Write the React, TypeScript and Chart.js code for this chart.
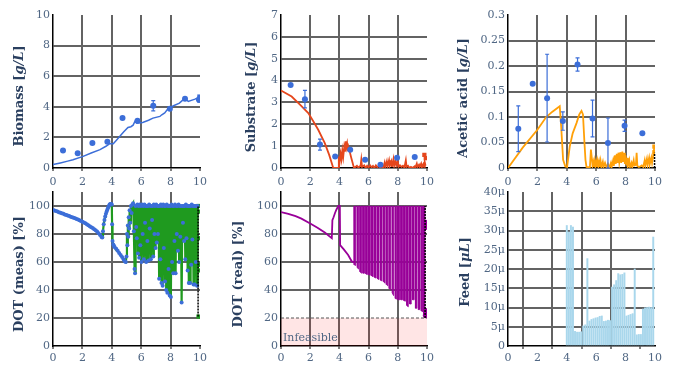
import React, { useEffect, useRef } from 'react';
import { Chart, registerables } from 'chart.js';
Chart.register(...registerables);

// ---------------- style constants ----------------
const TICK_FONT = 'DejaVu Serif';
const TICK_SIZE = 11;
const TICK_COLOR = '#506784';
const TITLE_COLOR = '#2a3f5f';
const TITLE_FONT = '"DejaVu Serif"';
const TITLE_SIZE = 13;
const GRID_COLOR = '#636363';
const BLUE = '#3c6ed8';
const RED = '#e5461c';
const ORANGE = '#ffa008';
const GREEN = '#1f9a1f';
const PURPLE = '#990099';
const FEED_BLUE = '#a9d7ec';

// ---------------- data ----------------
const xTickValues = [0, 2, 4, 6, 8, 10];

// Biomass
const biomassT = [0.68, 1.68, 2.68, 3.7, 4.73, 5.75, 6.82, 7.95, 8.98, 9.93];
const biomassY = [1.15, 0.96, 1.63, 1.72, 3.26, 3.09, 4.07, 3.87, 4.52, 4.46];
const biomassErr = [0, 0, 0, 0, 0, 0, 0.33, 0, 0, 0];
const biomassEndY = [4.4, 4.55, 4.67];
const biomassModelT = [0, 0.5, 1.0, 1.36, 2.05, 2.6, 3.2, 3.6, 3.86, 4.1, 4.3, 4.55, 4.8, 5.1, 5.3, 5.45, 5.57, 5.7, 6.1, 6.5, 6.8, 7.27, 7.4, 7.6, 7.84, 8.2, 8.6, 8.98, 9.2, 9.66, 10];
const biomassModelY = [0.22, 0.33, 0.45, 0.54, 0.76, 0.98, 1.2, 1.42, 1.59, 1.59, 1.8, 2.07, 2.35, 2.65, 2.7, 2.8, 3.04, 2.93, 2.98, 3.12, 3.26, 3.37, 3.48, 3.6, 3.9, 4.07, 4.24, 4.57, 4.35, 4.5, 4.67];

// Substrate
const substrateT = [0.66, 1.64, 2.67, 3.71, 4.74, 5.76, 6.81, 7.95, 9.16];
const substrateY = [3.8, 3.15, 1.07, 0.53, 0.84, 0.38, 0.15, 0.47, 0.5];
const substrateErr = [0, 0.4, 0.25, 0, 0, 0, 0, 0, 0];
const substrateEndT = [9.82, 9.92];
const substrateEndY = [0.6, 0.45];
const substrateModelT = [0, 0.73, 1.3, 1.87, 2.2, 2.55, 3.0, 3.3, 3.58, 3.92, 3.96, 4.02, 4.08, 4.14, 4.2, 4.26, 4.33, 4.38, 4.43, 4.48, 4.53, 4.58, 4.65, 4.82, 5.0, 5.1, 5.2, 5.3, 5.45, 5.5, 5.55, 5.7, 5.8, 5.9, 6.0, 6.1, 6.2, 6.3, 6.4, 6.5, 6.6, 6.7, 6.8, 6.9, 7.0, 7.1, 7.15, 7.25, 7.3, 7.4, 7.45, 7.55, 7.6, 7.7, 7.75, 7.85, 7.9, 8.0, 8.05, 8.15, 8.25, 8.35, 8.45, 8.55, 8.6, 8.7, 8.8, 8.9, 9.0, 9.15, 9.2, 9.3, 9.35, 9.45, 9.5, 9.6, 9.65, 9.75, 9.8, 9.85, 9.9];
const substrateModelY = [3.55, 3.27, 2.9, 2.51, 2.15, 1.75, 1.14, 0.6, 0, 0, 0.53, 0.3, 0.65, 0.4, 0.8, 0.5, 0.95, 0.75, 1.22, 0.95, 1.12, 0.85, 0.9, 0.45, 0, 0.05, 0.1, 0.02, 0.1, 0.38, 0.05, 0.12, 0.0, 0.1, 0.02, 0.12, 0.03, 0.1, 0.0, 0.12, 0.03, 0.1, 0.02, 0.08, 0.0, 0.25, 0.05, 0.3, 0.08, 0.35, 0.1, 0.3, 0.05, 0.4, 0.1, 0.35, 0.12, 0.3, 0.05, 0.12, 0.05, 0.1, 0.02, 0.35, 0.05, 0.1, 0.0, 0.05, 0.0, 0.08, 0.02, 0.2, 0.05, 0.15, 0.05, 0.2, 0.05, 0.18, 0.05, 0.25, 0.1];

// Acetic acid
const aceticT = [0.7, 1.68, 2.66, 3.73, 4.73, 5.75, 6.8, 7.93, 9.14];
const aceticY = [0.077, 0.165, 0.137, 0.092, 0.203, 0.097, 0.049, 0.083, 0.068];
const aceticErr = [0.045, 0, 0.086, 0.018, 0.013, 0.036, 0.049, 0.011, 0];
const aceticEndY = [0.042, 0.031];
const aceticModelT = [0, 1.0, 2.0, 2.6, 3.0, 3.52, 3.62, 3.75, 3.9, 4.02, 4.1, 4.2, 4.4, 4.66, 4.85, 5.0, 5.1, 5.2, 5.27, 5.34, 5.57, 5.64, 5.7, 5.75, 5.8, 5.85, 5.9, 5.95, 6.0, 6.05, 6.1, 6.15, 6.2, 6.25, 6.3, 6.35, 6.45, 6.5, 6.6, 6.7, 6.8, 6.9, 7.0, 7.05, 7.15, 7.2, 7.28, 7.33, 7.4, 7.45, 7.52, 7.57, 7.65, 7.7, 7.78, 7.83, 7.9, 7.95, 8.0, 8.05, 8.1, 8.15, 8.25, 8.3, 8.4, 8.45, 8.55, 8.6, 8.7, 8.75, 8.8, 8.9, 9.0, 9.1, 9.2, 9.3, 9.35, 9.45, 9.5, 9.6, 9.65, 9.75, 9.8, 9.88, 9.95];
const aceticModelY = [0, 0.04, 0.075, 0.1, 0.11, 0.121, 0.08, 0.016, 0.003, 0.002, 0.02, 0.042, 0.068, 0.088, 0.105, 0.112, 0.105, 0.05, 0.016, 0.002, 0.001, 0.036, 0.02, 0.005, 0.012, 0.002, 0.013, 0.003, 0.012, 0.002, 0.013, 0.003, 0.012, 0.002, 0.013, 0.002, 0.012, 0.002, 0.01, 0.001, 0.008, 0.001, 0.01, 0.002, 0.015, 0.004, 0.025, 0.008, 0.028, 0.01, 0.03, 0.012, 0.031, 0.01, 0.032, 0.012, 0.03, 0.008, 0.025, 0.005, 0.02, 0.003, 0.015, 0.002, 0.01, 0.002, 0.015, 0.005, 0.006, 0.03, 0.004, 0.002, 0.003, 0.005, 0.002, 0.015, 0.005, 0.018, 0.006, 0.02, 0.008, 0.02, 0.01, 0.025, 0.04];

// DOT (meas)
const dotMeasT = [0, 0.1, 0.2, 0.3, 0.4, 0.5, 0.6, 0.7, 0.8, 0.9, 1.0, 1.1, 1.2, 1.3, 1.4, 1.5, 1.6, 1.7, 1.8, 1.9, 2.0, 2.1, 2.2, 2.3, 2.4, 2.5, 2.6, 2.7, 2.8, 2.9, 3.0, 3.1, 3.2, 3.3,
  3.35, 3.4, 3.45, 3.5, 3.55, 3.6, 3.65, 3.7, 3.75, 3.8, 3.85, 3.9, 3.95, 4.0, 4.02, 4.05, 4.1, 4.15, 4.2, 4.3, 4.4, 4.5, 4.6, 4.7, 4.8, 4.85, 4.9, 4.95,
  5.0, 5.03, 5.06, 5.09, 5.12, 5.15, 5.18, 5.21, 5.25, 5.3, 5.35, 5.4, 5.45, 5.5, 5.55, 5.58, 5.62, 5.66, 5.7, 5.74, 5.78, 5.82, 5.86, 5.9, 5.94, 5.98,
  6.02, 6.06, 6.1, 6.14, 6.18, 6.22, 6.26, 6.3, 6.34, 6.38, 6.42, 6.46, 6.5, 6.54, 6.58, 6.62, 6.66, 6.7, 6.74, 6.78, 6.82, 6.86, 6.9, 6.94, 6.98,
  7.02, 7.06, 7.1, 7.14, 7.18, 7.22, 7.26, 7.3, 7.34, 7.38, 7.42, 7.46, 7.5, 7.54, 7.58, 7.62, 7.66, 7.7, 7.74, 7.78, 7.82, 7.86, 7.9, 7.94, 7.98,
  8.02, 8.06, 8.1, 8.14, 8.18, 8.22, 8.26, 8.3, 8.34, 8.38, 8.42, 8.46, 8.5, 8.54, 8.58, 8.62, 8.66, 8.7, 8.75, 8.8, 8.84, 8.88, 8.92, 8.96,
  9.0, 9.04, 9.08, 9.12, 9.16, 9.2, 9.24, 9.28, 9.32, 9.36, 9.4, 9.44, 9.48, 9.52, 9.56, 9.6, 9.64, 9.68, 9.72, 9.76, 9.8, 9.84];
const dotMeasY = [97.2, 96.8, 96.4, 96.0, 95.6, 95.2, 94.8, 94.4, 94.0, 93.6, 93.2, 92.8, 92.4, 92.0, 91.6, 91.2, 90.8, 90.3, 89.8, 89.3, 88.8, 88.2, 87.6, 87.0, 86.3, 85.6, 84.9, 84.2, 83.4, 82.6, 81.7, 80.6, 79.3, 77.8,
  77.5, 82, 87, 90, 92.5, 94.5, 96, 97.5, 99, 100, 101, 101.5, 101.5, 101, 87, 75, 72.5, 71.5, 70.5, 69.5, 68, 66.5, 65, 63.5, 62, 61, 60.3, 60,
  64, 80, 72, 86, 78, 92, 84, 97, 88, 100, 95, 101, 102, 82, 55, 52, 100, 85, 77, 101, 66, 100, 63, 101, 72, 100,
  60, 101, 80, 100, 62, 101, 88, 100, 60, 100, 75, 100, 61, 101, 84, 100, 62, 100, 90, 100, 64, 101, 80, 100, 70,
  101, 74, 100, 80, 100, 48, 100, 62, 101, 45, 100, 43, 101, 70, 100, 46, 100, 40, 101, 38, 100, 55, 100, 36, 100,
  35, 101, 60, 100, 52, 100, 75, 101, 52, 100, 80, 100, 68, 101, 60, 100, 78, 100, 31, 100, 88, 100, 75, 100,
  62, 101, 77, 100, 54, 100, 45, 100, 45, 100, 58, 101, 76, 100, 44, 100, 44, 100, 60, 100, 43, 100];
const dotMeasEndY = [100, 96, 77, 58, 54, 21];

// DOT (real): smooth early part, then the fast on/off cycling part
const dotRealEarlyT = [0, 0.5, 1.0, 1.4, 2.0, 2.5, 3.0, 3.48, 3.52, 3.6, 3.7, 3.8, 3.93, 4.03, 4.05, 4.3, 4.6, 4.84, 4.95, 5.0];
const dotRealEarlyY = [95.7, 94.3, 92.7, 91, 87.5, 84.5, 81, 77, 89.8, 92, 95, 97.5, 100, 100, 72, 69, 65, 60.5, 60, 60];
const dotRealCycleT = [
  5.0, 5.01, 5.11, 5.12, 5.2, 5.21, 5.31, 5.32, 5.4, 5.41, 5.51, 5.52, 5.6, 5.61, 5.71, 5.72, 5.8, 5.81, 5.91, 5.92,
  6.0, 6.01, 6.11, 6.12, 6.2, 6.21, 6.31, 6.32, 6.4, 6.41, 6.51, 6.52, 6.6, 6.61, 6.71, 6.72, 6.8, 6.81, 6.91, 6.92,
  7.0, 7.01, 7.11, 7.12, 7.2, 7.21, 7.31, 7.32, 7.4, 7.41, 7.51, 7.52, 7.6, 7.61, 7.71, 7.72, 7.8, 7.81, 7.91, 7.92,
  8.0, 8.01, 8.11, 8.12, 8.2, 8.21, 8.31, 8.32, 8.4, 8.41, 8.51, 8.52, 8.6, 8.61, 8.71, 8.72, 8.8, 8.81, 8.91, 8.92,
  9.0, 9.01, 9.11, 9.12, 9.2, 9.21, 9.31, 9.32, 9.4, 9.41, 9.51, 9.52, 9.6, 9.61, 9.71, 9.72, 9.76, 9.77, 9.85, 9.86];
const dotRealCycleY = [
  100, 58, 57.5, 100, 100, 56, 55, 100, 100, 53, 52, 100, 100, 52, 52, 100, 100, 51.5, 51, 100,
  100, 51, 50.5, 100, 100, 50, 49.5, 100, 100, 49, 48.5, 100, 100, 48, 47.5, 100, 100, 47, 46.5, 100,
  100, 46, 45, 100, 100, 44, 43, 100, 100, 41, 40, 100, 100, 38, 36, 100, 100, 34, 33.5, 100,
  100, 33, 33, 100, 100, 33, 33, 100, 100, 32.5, 32, 100, 100, 29, 28, 100, 100, 30, 30, 100,
  100, 33, 33, 100, 100, 27, 27, 100, 100, 26, 26, 100, 100, 25, 24.5, 100, 100, 23, 22, 100];
const dotRealEndY = [88, 85, 25, 22];
const infeasibleLimit = 20;

// Feed (values in micro-units)
const feedT = [4.0, 4.14, 4.28, 4.42, 4.56, 4.7, 4.84, 4.98, 5.12, 5.26, 5.4, 5.54, 5.68, 5.82, 5.96, 6.1, 6.24, 6.38, 6.52, 6.66, 6.8, 6.94, 7.08, 7.22, 7.36, 7.5, 7.64, 7.78, 7.92, 8.06, 8.2, 8.34, 8.48, 8.62, 8.76, 8.9, 9.04, 9.18, 9.32, 9.46, 9.6, 9.74, 9.88];
const feedMicro = [31.3, 29.6, 31.3, 30.9, 3.8, 3.6, 3.6, 3.7, 5.2, 5.5, 22.7, 6.5, 6.9, 7.1, 7.3, 7.4, 7.7, 7.8, 6.4, 6.5, 6.7, 6.6, 15.3, 15.9, 17.0, 18.8, 18.5, 18.6, 19.0, 7.8, 8.0, 8.2, 8.4, 20.0, 2.9, 3.0, 3.0, 9.6, 9.9, 10.0, 10.1, 10.0, 28.3];

// ---------------- helpers ----------------
const pts = (t: number[], y: number[]) => t.map((x, i) => ({ x, y: y[i] }));
const atX = (x: number, y: number[]) => y.map((v) => ({ x, y: v }));

const dots = (data: any[], color: string, extra: any = {}) => ({
  type: 'line', data, showLine: false, pointRadius: 3, pointBackgroundColor: color,
  pointBorderColor: color, pointBorderWidth: 0, borderColor: color, backgroundColor: color, ...extra,
});
const line = (data: any[], color: string, width = 1.5, extra: any = {}) => ({
  type: 'line', data, borderColor: color, borderWidth: width, pointRadius: 0, tension: 0, fill: false, ...extra,
});

const COLS = [
  { left: 0, w: 225, plotLeft: 53, plotRight: 200 },
  { left: 225, w: 225, plotLeft: 281, plotRight: 427 },
  { left: 450, w: 226, plotLeft: 508, plotRight: 655 },
];
const ROWS = [
  { top: 0, h: 190, plotTop: 15, plotBottom: 168, xPad: 5 },
  { top: 182, h: 183, plotTop: 192, plotBottom: 346, xPad: 3 },
];

type Seg = { t: string; i?: boolean };
type Spec = {
  col: number; row: number;
  yMax: number; yStep: number; yTickMax: number; yFmt: (v: number) => string;
  title: Seg[]; titleX: number; titleY: number;
  datasets: any[];
  errors?: { t: number[]; y: number[]; e: number[]; color: string }[];
  lines?: { x1: number; y1: number; x2: number; y2: number; color: string; dash?: number[]; width?: number }[];
  zone?: { y1: number; y2: number; color: string; text: string };
  hideGrid?: number[];
};

function buildConfig(spec: Spec): any {
  const c = COLS[spec.col];
  const r = ROWS[spec.row];
  const yW = c.plotLeft - c.left;
  const padRight = c.left + c.w - c.plotRight;
  const padTop = r.plotTop - r.top;
  const xH = r.top + r.h - r.plotBottom;
  const eps = 1e-9;

  const titlePlugin = {
    id: 'ytitle',
    afterDraw(chart: any) {
      const ctx = chart.ctx;
      ctx.save();
      ctx.translate(spec.titleX - c.left, spec.titleY - r.top);
      ctx.rotate(-Math.PI / 2);
      const fontOf = (s: Seg) => `${s.i ? 'italic ' : ''}bold ${TITLE_SIZE}px ${TITLE_FONT}`;
      let total = 0;
      const widths = spec.title.map((s) => { ctx.font = fontOf(s); const w = ctx.measureText(s.t).width; total += w; return w; });
      let x = -total / 2;
      ctx.fillStyle = TITLE_COLOR;
      ctx.textBaseline = 'middle';
      ctx.textAlign = 'left';
      spec.title.forEach((s, i) => { ctx.font = fontOf(s); ctx.fillText(s.t, x, 0); x += widths[i]; });
      ctx.restore();
    },
  };

  const extrasPlugin = {
    id: 'extras',
    beforeDatasetsDraw(chart: any) {
      if (!spec.zone) return;
      const { ctx, chartArea: a, scales } = chart;
      const y1 = scales.y.getPixelForValue(spec.zone.y1);
      const y2 = scales.y.getPixelForValue(spec.zone.y2);
      ctx.save();
      ctx.fillStyle = spec.zone.color;
      ctx.fillRect(a.left, y2, a.right - a.left, y1 - y2);
      ctx.strokeStyle = '#555';
      ctx.lineWidth = 1;
      ctx.setLineDash([3, 2]);
      ctx.beginPath();
      ctx.moveTo(a.left, y2);
      ctx.lineTo(a.right, y2);
      ctx.stroke();
      ctx.setLineDash([]);
      ctx.fillStyle = TICK_COLOR;
      ctx.font = `${TICK_SIZE}px "${TICK_FONT}"`;
      ctx.textBaseline = 'alphabetic';
      ctx.fillText(spec.zone.text, a.left + 2, y1 - 5);
      ctx.restore();
    },
    afterDatasetsDraw(chart: any) {
      const { ctx, scales } = chart;
      const sx = scales.x, sy = scales.y;
      ctx.save();
      (spec.errors || []).forEach((eb) => {
        ctx.strokeStyle = eb.color;
        ctx.lineWidth = 1.2;
        eb.t.forEach((t, i) => {
          const e = eb.e[i];
          if (!e) return;
          const px = sx.getPixelForValue(t);
          const top = sy.getPixelForValue(eb.y[i] + e);
          const bot = sy.getPixelForValue(eb.y[i] - e);
          ctx.beginPath();
          ctx.moveTo(px, top); ctx.lineTo(px, bot);
          ctx.moveTo(px - 2, top); ctx.lineTo(px + 2, top);
          ctx.moveTo(px - 2, bot); ctx.lineTo(px + 2, bot);
          ctx.stroke();
        });
      });
      (spec.lines || []).forEach((l) => {
        ctx.strokeStyle = l.color;
        ctx.lineWidth = l.width || 1.5;
        ctx.setLineDash(l.dash || []);
        ctx.beginPath();
        ctx.moveTo(sx.getPixelForValue(l.x1), sy.getPixelForValue(l.y1));
        ctx.lineTo(sx.getPixelForValue(l.x2), sy.getPixelForValue(l.y2));
        ctx.stroke();
      });
      ctx.restore();
    },
  };

  const tickFont = { family: TICK_FONT, size: TICK_SIZE };
  const hide = spec.hideGrid || [];

  return {
    type: 'line',
    data: { datasets: spec.datasets },
    plugins: [extrasPlugin, titlePlugin],
    options: {
      animation: false,
      responsive: false,
      devicePixelRatio: 1,
      layout: { padding: { left: 0, top: padTop, right: padRight, bottom: 0 } },
      plugins: { legend: { display: false }, tooltip: { enabled: false } },
      scales: {
        x: {
          type: 'linear', min: 0, max: 10, offset: false,
          afterBuildTicks: (s: any) => { s.ticks = xTickValues.map((v) => ({ value: v })); },
          ticks: { color: TICK_COLOR, font: tickFont, padding: r.xPad, maxRotation: 0, autoSkip: false, callback: (v: any) => String(v) },
          grid: {
            color: (ctx: any) => (ctx.tick && (Math.abs(ctx.tick.value) < eps || Math.abs(ctx.tick.value - 10) < eps) ? 'rgba(0,0,0,0)' : GRID_COLOR),
            lineWidth: 2, drawTicks: true, tickColor: '#000', tickLength: 3, tickWidth: 1,
          },
          border: { display: true, color: '#000', width: 1.5 },
          afterFit: (s: any) => { s.height = xH; },
        },
        y: {
          type: 'linear', min: 0, max: spec.yMax,
          ticks: { stepSize: spec.yStep, color: TICK_COLOR, font: tickFont, padding: 3, callback: (v: any) => spec.yFmt(Number(v)) },
          afterBuildTicks: (s: any) => { s.ticks = s.ticks.filter((t: any) => t.value <= spec.yTickMax + eps); },
          grid: {
            color: (ctx: any) => {
              const v = ctx.tick ? ctx.tick.value : NaN;
              if (Math.abs(v) < eps || Math.abs(v - spec.yMax) < eps || hide.some((h) => Math.abs(h - v) < eps)) return 'rgba(0,0,0,0)';
              return GRID_COLOR;
            },
            lineWidth: 2, drawTicks: false,
          },
          border: { display: true, color: '#000', width: 1.5 },
          afterFit: (s: any) => { s.width = yW; },
        },
      },
    },
  };
}

const intFmt = (v: number) => String(Math.round(v));

const SPECS: Spec[] = [
  {
    col: 0, row: 0, yMax: 10, yStep: 2, yTickMax: 10, yFmt: intFmt,
    title: [{ t: 'Biomass [' }, { t: 'g/L', i: true }, { t: ']' }], titleX: 20, titleY: 96,
    datasets: [
      dots(pts(biomassT, biomassY), BLUE),
      dots(atX(9.96, biomassEndY), BLUE, { pointStyle: 'rect', pointRadius: 3 }),
      line(pts(biomassModelT, biomassModelY), BLUE, 1.5),
    ],
    errors: [{ t: biomassT, y: biomassY, e: biomassErr, color: BLUE }],
  },
  {
    col: 1, row: 0, yMax: 7, yStep: 1, yTickMax: 7, yFmt: intFmt,
    title: [{ t: 'Substrate [' }, { t: 'g/L', i: true }, { t: ']' }], titleX: 252, titleY: 97,
    datasets: [
      dots(pts(substrateT, substrateY), BLUE),
      dots(pts(substrateEndT, substrateEndY), RED, { pointStyle: 'rect', pointRadius: 3 }),
      line(pts(substrateModelT, substrateModelY), RED, 1.8),
    ],
    errors: [{ t: substrateT, y: substrateY, e: substrateErr, color: BLUE }],
  },
  {
    col: 2, row: 0, yMax: 0.3, yStep: 0.05, yTickMax: 0.3, yFmt: (v) => String(Number(v.toFixed(2))),
    title: [{ t: 'Acetic acid [' }, { t: 'g/L', i: true }, { t: ']' }], titleX: 464, titleY: 98,
    datasets: [
      dots(pts(aceticT, aceticY), BLUE),
      dots(atX(9.96, aceticEndY), ORANGE, { pointStyle: 'rect', pointRadius: 3 }),
      line(pts(aceticModelT, aceticModelY), ORANGE, 1.8),
    ],
    errors: [{ t: aceticT, y: aceticY, e: aceticErr, color: BLUE }],
    lines: [{ x1: 9.97, y1: 0, x2: 9.97, y2: 0.03, color: '#000', dash: [2, 1], width: 1.5 }],
  },
  {
    col: 0, row: 1, yMax: 110, yStep: 20, yTickMax: 100, yFmt: intFmt,
    title: [{ t: 'DOT (meas) [%]' }], titleX: 20, titleY: 274,
    datasets: [
      dots(pts(dotMeasT, dotMeasY), BLUE, { pointRadius: 2 }),
      dots(atX(9.9, dotMeasEndY), GREEN, { pointStyle: 'rect', pointRadius: 3 }),
      line(pts(dotMeasT, dotMeasY), GREEN, 2.2),
    ],
    lines: [{ x1: 9.87, y1: 21, x2: 9.87, y2: 100, color: '#000', dash: [2, 1], width: 1.5 }],
  },
  {
    col: 1, row: 1, yMax: 110, yStep: 20, yTickMax: 100, yFmt: intFmt,
    title: [{ t: 'DOT (real) [%]' }], titleX: 239, titleY: 274,
    datasets: [
      dots(atX(9.92, dotRealEndY), PURPLE, { pointRadius: 3 }),
      line(pts(dotRealCycleT, dotRealCycleY), PURPLE, 0.8, { fill: { value: 100 }, backgroundColor: PURPLE }),
      line(pts(dotRealEarlyT, dotRealEarlyY), PURPLE, 1.8),
    ],
    hideGrid: [20],
    zone: { y1: 0, y2: infeasibleLimit, color: 'rgba(255,0,0,0.1)', text: 'Infeasible' },
    lines: [{ x1: 9.87, y1: 20, x2: 9.87, y2: 100, color: '#000', dash: [2, 1], width: 1.5 }],
  },
  {
    col: 2, row: 1, yMax: 40, yStep: 5, yTickMax: 40, yFmt: (v) => (Math.abs(v) < 1e-9 ? '0' : `${Math.round(v)}μ`),
    title: [{ t: 'Feed [' }, { t: 'μL', i: true }, { t: ']' }], titleX: 466, titleY: 272,
    datasets: [
      { type: 'bar', data: pts(feedT, feedMicro), backgroundColor: FEED_BLUE, borderWidth: 0, barThickness: 1.3 },
    ],
  },
];

function Panel({ spec }: { spec: Spec }) {
  const ref = useRef<HTMLCanvasElement>(null);
  const c = COLS[spec.col];
  const r = ROWS[spec.row];
  useEffect(() => {
    const chart = new Chart(ref.current as HTMLCanvasElement, buildConfig(spec));
    return () => chart.destroy();
  }, []);
  return (
    <canvas
      ref={ref}
      width={c.w}
      height={r.h}
      style={{ position: 'absolute', left: c.left, top: r.top, width: c.w, height: r.h }}
    />
  );
}

export default function App() {
  return (
    <div style={{ position: 'absolute', left: 0, top: 0, width: 676, height: 365, background: '#fff', overflow: 'hidden' }}>
      {SPECS.map((s, i) => (
        <Panel key={i} spec={s} />
      ))}
    </div>
  );
}
